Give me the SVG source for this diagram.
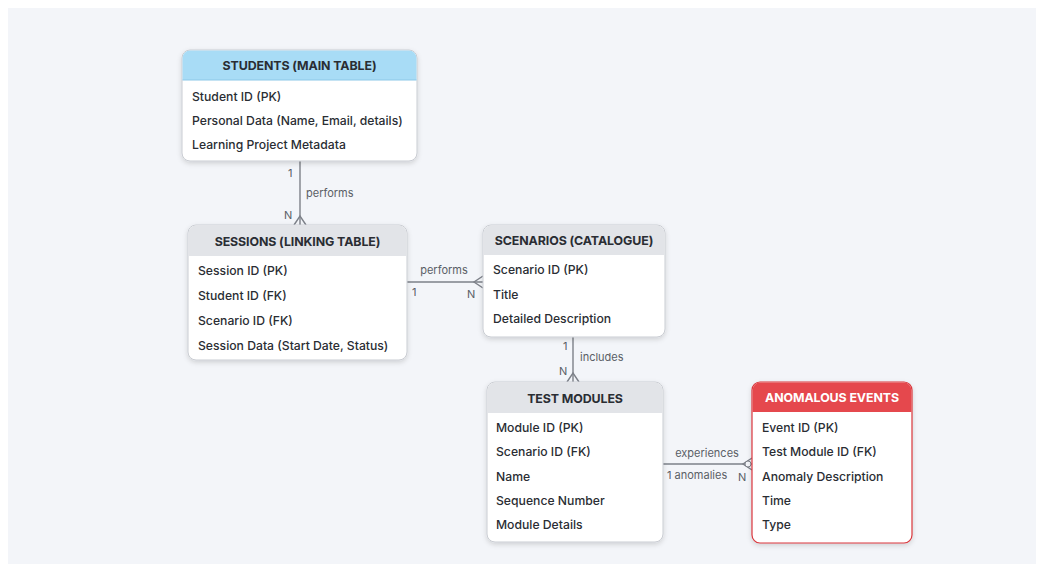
<svg xmlns="http://www.w3.org/2000/svg" width="1044" height="576" viewBox="0 0 1044 576">
<style>
.box{fill:#ffffff;stroke:#c9ccd2;stroke-width:1}
.hdr{fill:#e2e4e8}
.hblue{fill:#a8dcf6}
.hred{fill:#e5484d}
.ht{font-family:Inter,"Liberation Sans",sans-serif;font-size:12.4px;font-weight:700;fill:#2a2d33;text-anchor:middle;letter-spacing:-0.1px}
.htw{fill:#ffffff}
.t{font-family:Inter,"Liberation Sans",sans-serif;font-size:12.2px;font-weight:500;fill:#2a2d33}
.lbl{font-family:Inter,"Liberation Sans",sans-serif;font-size:11px;fill:#5a5e66}
.ln{stroke:#7d8189;stroke-width:1.4;fill:none}
</style>
<defs>
<filter id="sh" x="-10%" y="-10%" width="120%" height="130%">
<feDropShadow dx="0" dy="2" stdDeviation="2.5" flood-color="#000" flood-opacity="0.15"/>
</filter>
</defs>
<rect width="1044" height="576" fill="#ffffff"/>
<rect x="8" y="8" width="1028" height="556" fill="#f3f5f9"/>

<g id="connectors">
  <line class="ln" x1="300" y1="161" x2="300" y2="225"/>
  <path class="ln" d="M294,225 L300,216 L306,225"/>
  <text class="lbl" x="288" y="177">1</text>
  <text class="lbl" x="306" y="197">performs</text>
  <text class="lbl" x="284" y="219">N</text>

  <line class="ln" x1="407" y1="282" x2="483" y2="282"/>
  <path class="ln" d="M483,276 L474,282 L483,288"/>
  <text class="lbl" x="444" y="274" text-anchor="middle">performs</text>
  <text class="lbl" x="412" y="296">1</text>
  <text class="lbl" x="467" y="298">N</text>

  <line class="ln" x1="573" y1="337" x2="573" y2="382"/>
  <path class="ln" d="M567,382 L573,373 L579,382"/>
  <text class="lbl" x="563" y="350">1</text>
  <text class="lbl" x="580" y="361">includes</text>
  <text class="lbl" x="559" y="375">N</text>

  <line class="ln" x1="663" y1="464" x2="752" y2="464"/>
  <path class="ln" d="M752,458 L743,464 L752,470"/>
  <circle cx="748" cy="464" r="3" fill="#f3f5f9" stroke="#7d8189" stroke-width="1"/>
  <text class="lbl" x="707" y="457" text-anchor="middle">experiences</text>
  <text class="lbl" x="667" y="479">1 anomalies</text>
  <text class="lbl" x="738" y="481">N</text>
</g>

<g id="students">
  <rect class="box" x="182" y="50" width="235" height="111" rx="8" filter="url(#sh)"/>
  <path class="hblue" d="M190,50.5 H409 A7.5,7.5 0 0 1 416.5,58 V80 H182.5 V58 A7.5,7.5 0 0 1 190,50.5 Z"/>
  <line x1="182.5" y1="80" x2="416.5" y2="80" stroke="#8cc8e8" stroke-width="1"/>
  <text class="ht" x="299.5" y="70">STUDENTS (MAIN TABLE)</text>
  <text class="t" x="192" y="101">Student ID (PK)</text>
  <text class="t" x="192" y="125">Personal Data (Name, Email, details)</text>
  <text class="t" x="192" y="149">Learning Project Metadata</text>
</g>

<g id="sessions">
  <rect class="box" x="188" y="225" width="219" height="135" rx="8" filter="url(#sh)"/>
  <path class="hdr" d="M196,225.5 H399 A7.5,7.5 0 0 1 406.5,233 V256 H188.5 V233 A7.5,7.5 0 0 1 196,225.5 Z"/>
  <text class="ht" x="297.5" y="246">SESSIONS (LINKING TABLE)</text>
  <text class="t" x="198" y="275">Session ID (PK)</text>
  <text class="t" x="198" y="300">Student ID (FK)</text>
  <text class="t" x="198" y="325">Scenario ID (FK)</text>
  <text class="t" x="198" y="350">Session Data (Start Date, Status)</text>
</g>

<g id="scenarios">
  <rect class="box" x="483" y="225" width="182" height="112" rx="8" filter="url(#sh)"/>
  <path class="hdr" d="M491,225.5 H657 A7.5,7.5 0 0 1 664.5,233 V255 H483.5 V233 A7.5,7.5 0 0 1 491,225.5 Z"/>
  <text class="ht" x="574" y="245">SCENARIOS (CATALOGUE)</text>
  <text class="t" x="493" y="274">Scenario ID (PK)</text>
  <text class="t" x="493" y="299">Title</text>
  <text class="t" x="493" y="323">Detailed Description</text>
</g>

<g id="test-modules">
  <rect class="box" x="487" y="382" width="176" height="160" rx="8" filter="url(#sh)"/>
  <path class="hdr" d="M495,382.5 H655 A7.5,7.5 0 0 1 662.5,390 V413 H487.5 V390 A7.5,7.5 0 0 1 495,382.5 Z"/>
  <text class="ht" x="575" y="403">TEST MODULES</text>
  <text class="t" x="496" y="432">Module ID (PK)</text>
  <text class="t" x="496" y="456">Scenario ID (FK)</text>
  <text class="t" x="496" y="481">Name</text>
  <text class="t" x="496" y="505">Sequence Number</text>
  <text class="t" x="496" y="529">Module Details</text>
</g>

<g id="anomalous-events">
  <rect x="752" y="382" width="160" height="161" rx="8" fill="#ffffff" stroke="#d9363c" stroke-width="1.2" filter="url(#sh)"/>
  <path class="hred" d="M760,382.6 H904 A7.4,7.4 0 0 1 911.4,390 V412 H752.6 V390 A7.4,7.4 0 0 1 760,382.6 Z"/>
  <text class="ht htw" x="832" y="402">ANOMALOUS EVENTS</text>
  <text class="t" x="762" y="432">Event ID (PK)</text>
  <text class="t" x="762" y="456">Test Module ID (FK)</text>
  <text class="t" x="762" y="481">Anomaly Description</text>
  <text class="t" x="762" y="505">Time</text>
  <text class="t" x="762" y="529">Type</text>
</g>
</svg>
